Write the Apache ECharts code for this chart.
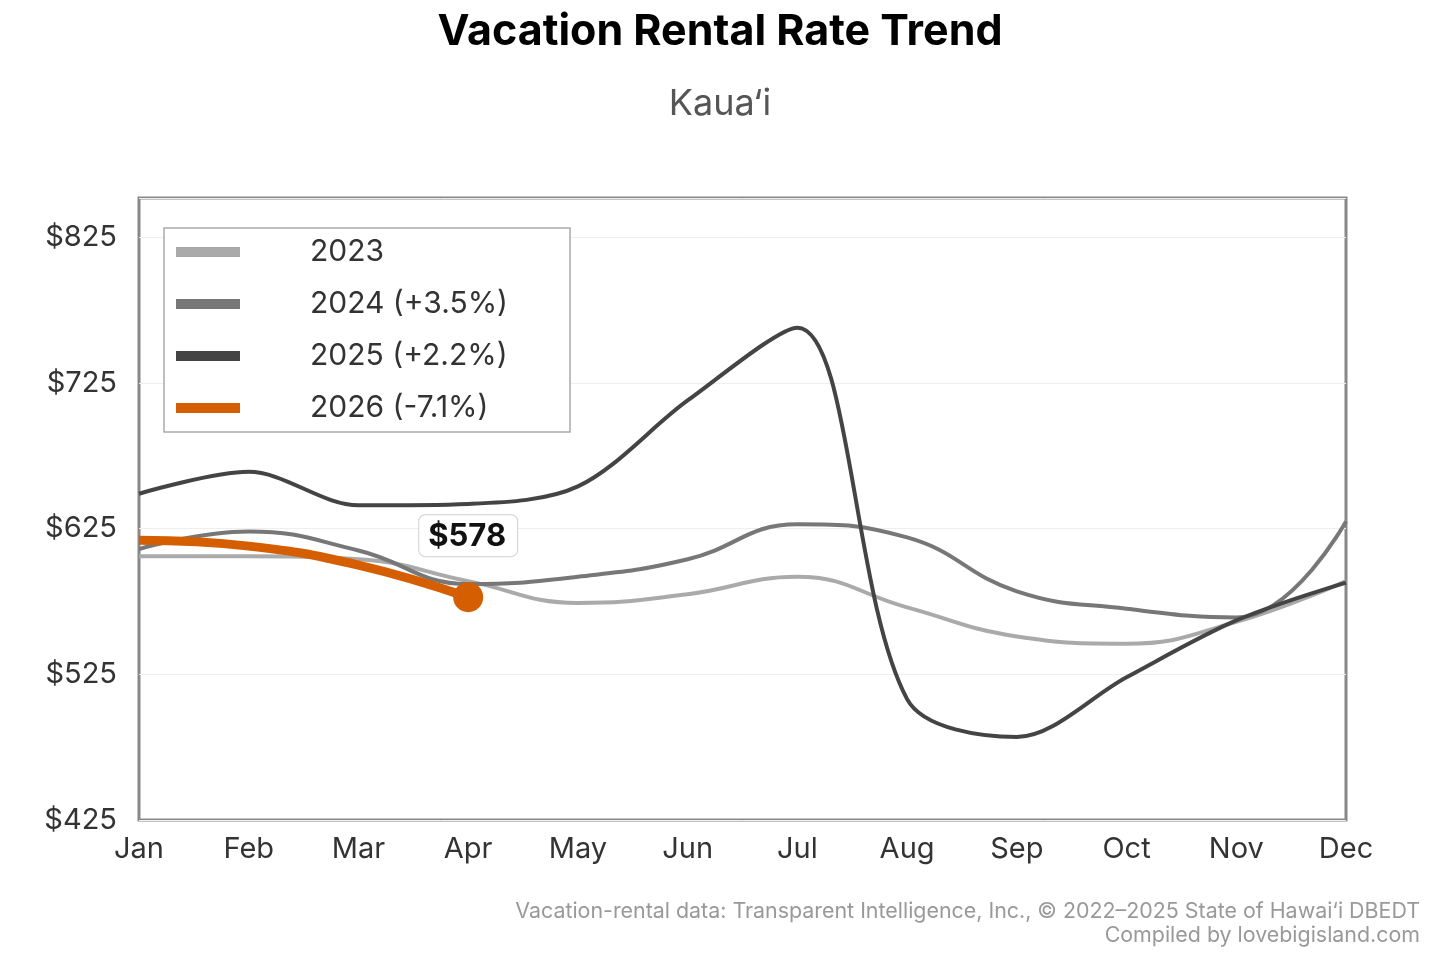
<!DOCTYPE html>
<html>
<head>
<meta charset="utf-8">
<title>Vacation Rental Rate Trend</title>
<script src="https://cdn.jsdelivr.net/npm/echarts@6/dist/echarts.min.js"></script>
<style>
  html, body { margin: 0; padding: 0; background: #fff; }
  #chart { width: 1440px; height: 960px; }
</style>
</head>
<body>
<div id="chart"></div>
<script>
// months on the x axis
const months = ['Jan', 'Feb', 'Mar', 'Apr', 'May', 'Jun', 'Jul', 'Aug', 'Sep', 'Oct', 'Nov', 'Dec']

// average nightly rate by month
const rates2023 = [606, 606, 604, 589, 574, 580, 592, 571, 551, 546, 561, 589]
const rates2024 = [611, 623, 610, 587, 592, 604, 628, 619, 582, 570, 564, 630]
const rates2025 = [649, 664, 641, 642, 654, 713, 763, 508, 482, 523, 562, 588]
const rates2026 = [617, 613, 600, 578]

const seriesNames = ['2023', '2024 (+3.5%)', '2025 (+2.2%)', '2026 (-7.1%)']
const seriesColors = ['#aaaaaa', '#777777', '#444444', '#d55e00']

const chart = echarts.init(document.getElementById('chart'))

// last point of 2026 gets the big dot and the value box
const data2026 = rates2026.map((v, i) => {
  if (i < rates2026.length - 1) return v
  return {
    value: v,
    symbol: 'circle',
    symbolSize: 30,
    label: {
      show: true,
      position: 'top',
      distance: 26,
      formatter: '${c}',
      fontFamily: 'Inter',
      fontWeight: 'bold',
      fontSize: 31,
      color: '#111',
      backgroundColor: '#fff',
      borderColor: '#d0d0d0',
      borderWidth: 1,
      borderRadius: 6,
      padding: [6, 11, 4, 9]
    }
  }
})

const lineSeries = (name, data, color, width, smooth) => ({
  name,
  type: 'line',
  data,
  smooth: smooth || 0.45,
  showSymbol: false,
  symbol: 'none',
  lineStyle: { color, width },
  itemStyle: { color },
  emphasis: { disabled: true },
  z: 2
})

const s2026 = lineSeries(seriesNames[3], data2026, seriesColors[3], 9)
s2026.showSymbol = true
s2026.z = 5

const footStyle = { fontFamily: 'Inter', fontSize: 21.4, fill: '#999', align: 'right' }

const option = {
  backgroundColor: '#fff',
  animation: false,
  textStyle: { fontFamily: 'Inter' },
  title: [
    {
      text: 'Vacation Rental Rate Trend',
      left: 'center',
      top: 6,
      textStyle: { fontFamily: 'Inter', fontSize: 43, fontWeight: 'bold', color: '#000' }
    },
    {
      text: 'Kaua‘i',
      left: 'center',
      top: 81,
      textStyle: { fontFamily: 'Inter', fontSize: 36, fontWeight: 'normal', color: '#555' }
    }
  ],
  graphic: [
    {
      type: 'text',
      right: 20,
      top: 901,
      style: Object.assign({ text: 'Vacation-rental data: Transparent Intelligence, Inc., © 2022–2025 State of Hawai‘i DBEDT' }, footStyle)
    },
    {
      type: 'text',
      right: 20,
      top: 925,
      style: Object.assign({ text: 'Compiled by lovebigisland.com' }, footStyle)
    }
  ],
  legend: {
    orient: 'vertical',
    left: 164,
    top: 228,
    padding: [9, 62, 9, 12],
    itemGap: 22,
    itemWidth: 64,
    itemHeight: 10,
    icon: 'rect',
    backgroundColor: '#fff',
    borderColor: '#aaaaaa',
    borderWidth: 1.5,
    textStyle: { fontFamily: 'Inter', fontSize: 30, color: '#333', padding: [5, 0, 0, 65] },
    data: seriesNames
  },
  grid: {
    left: 139,
    right: 94,
    top: 198,
    bottom: 140,
    show: true,
    borderColor: '#888',
    borderWidth: 3,
    backgroundColor: 'transparent'
  },
  xAxis: {
    type: 'category',
    data: months,
    boundaryGap: false,
    axisLine: { show: false },
    axisTick: { show: false },
    axisLabel: { fontFamily: 'Inter', fontSize: 29, color: '#333', margin: 15 },
    splitLine: { show: false }
  },
  yAxis: {
    type: 'value',
    min: 425,
    max: 852,
    interval: 100,
    axisLine: { show: false },
    axisTick: { show: false },
    axisLabel: {
      fontFamily: 'Inter',
      fontSize: 29,
      color: '#333',
      margin: 22,
      showMaxLabel: false,
      formatter: v => '$' + v
    },
    splitLine: { lineStyle: { color: '#eeeeee', width: 1 } }
  },
  series: [
    lineSeries(seriesNames[0], rates2023, seriesColors[0], 4),
    lineSeries(seriesNames[1], rates2024, seriesColors[1], 4),
    lineSeries(seriesNames[2], rates2025, seriesColors[2], 4, 0.32),
    s2026
  ]
}

chart.setOption(option)
</script>
</body>
</html>
